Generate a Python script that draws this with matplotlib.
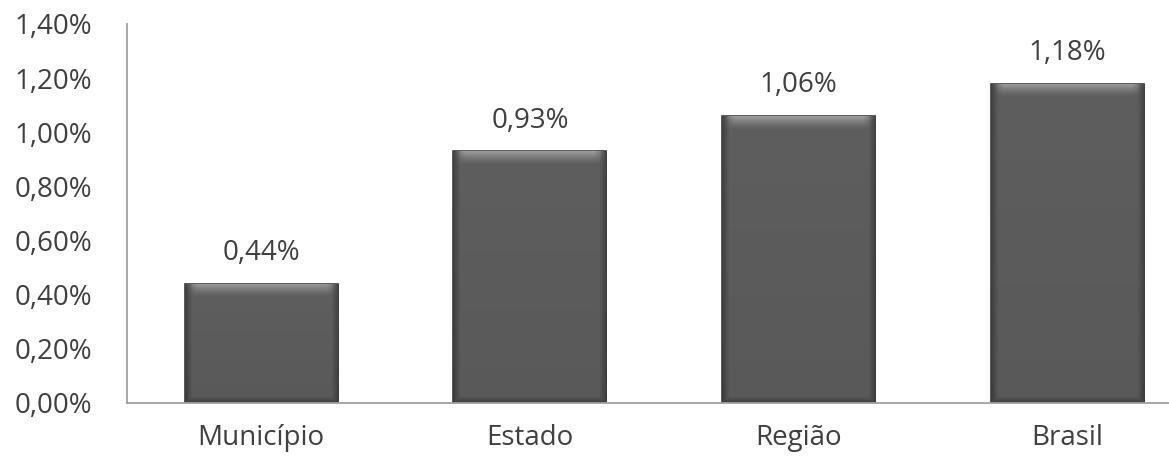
import numpy as np
import matplotlib
matplotlib.use('Agg')
import matplotlib.pyplot as plt
from matplotlib.colors import LinearSegmentedColormap

plt.rcParams['font.family'] = ['Open Sans', 'DejaVu Sans']

# data
categorias = ['Município', 'Estado', 'Região', 'Brasil']
valores = [0.44, 0.93, 1.06, 1.18]
rotulos = ['0,44%', '0,93%', '1,06%', '1,18%']
yticks = [0.0, 0.2, 0.4, 0.6, 0.8, 1.0, 1.2, 1.4]
ytick_labels = ['0,00%', '0,20%', '0,40%', '0,60%', '0,80%', '1,00%', '1,20%', '1,40%']

fig = plt.figure(figsize=(11.69, 4.63), dpi=100)
ax = fig.add_axes([0.1086, 0.1296, 0.8914, 0.8186])

x = np.arange(len(categorias))
bars = ax.bar(x, valores, width=0.57, color='#5e5e5e', edgecolor='#3c3c3c', linewidth=1.2, zorder=2)

ax.set_xlim(-0.5, 3.379)
ax.set_ylim(0, 1.40)

fig.canvas.draw()

# bevel shading, built in pixel units for each bar
cmap = LinearSegmentedColormap.from_list('bev', ['#2e2e2e', '#5e5e5e', '#a8a8a8'])
for b in bars:
    bb = b.get_window_extent()
    w, h = int(bb.width), int(bb.height)
    yy, xx = np.mgrid[0:h, 0:w]
    shade = np.full((h, w), 0.5)
    # top highlight (rows counted from top), fading at the corners
    top = np.clip(1 - yy / 13.0, 0, 1) ** 1.3
    edge = np.clip(np.minimum(xx, w - 1 - xx) / 12.0, 0, 1)
    shade = shade + 0.42 * top * edge
    # dark sides and bottom
    side = np.clip(1 - np.minimum(xx, w - 1 - xx) / 7.0, 0, 1)
    bottom = np.clip(1 - (h - 1 - yy) / 6.0, 0, 1)
    shade = shade - 0.3 * np.maximum(side, bottom)
    # slight overall vertical gradient
    shade = shade - 0.05 * yy / max(h, 1)
    x0, y0, x1, y1 = b.get_x(), b.get_y(), b.get_x() + b.get_width(), b.get_y() + b.get_height()
    im = ax.imshow(shade, cmap=cmap, vmin=0, vmax=1, extent=[x0, x1, y0, y1],
                   aspect='auto', origin='upper', zorder=2.5, interpolation='bilinear')
    im.set_clip_path(b)

ax.set_xlim(-0.5, 3.379)
ax.set_ylim(0, 1.40)

for xi, v, r in zip(x, valores, rotulos):
    ax.annotate(r, (xi, v), xytext=(0, 12), textcoords='offset points',
                ha='center', va='bottom', fontsize=20, color='#404040')

ax.set_xticks(x)
ax.set_xticklabels(categorias, fontsize=20, color='#404040')
ax.set_yticks(yticks)
ax.set_yticklabels(ytick_labels, fontsize=20, color='#404040')
ax.tick_params(axis='both', length=0)
ax.tick_params(axis='x', pad=15)
ax.tick_params(axis='y', pad=25)

for s in ['top', 'right']:
    ax.spines[s].set_visible(False)
for s in ['left', 'bottom']:
    ax.spines[s].set_color('#a0a0a0')
    ax.spines[s].set_linewidth(1.3)

fig.savefig('out.png', dpi=100)
